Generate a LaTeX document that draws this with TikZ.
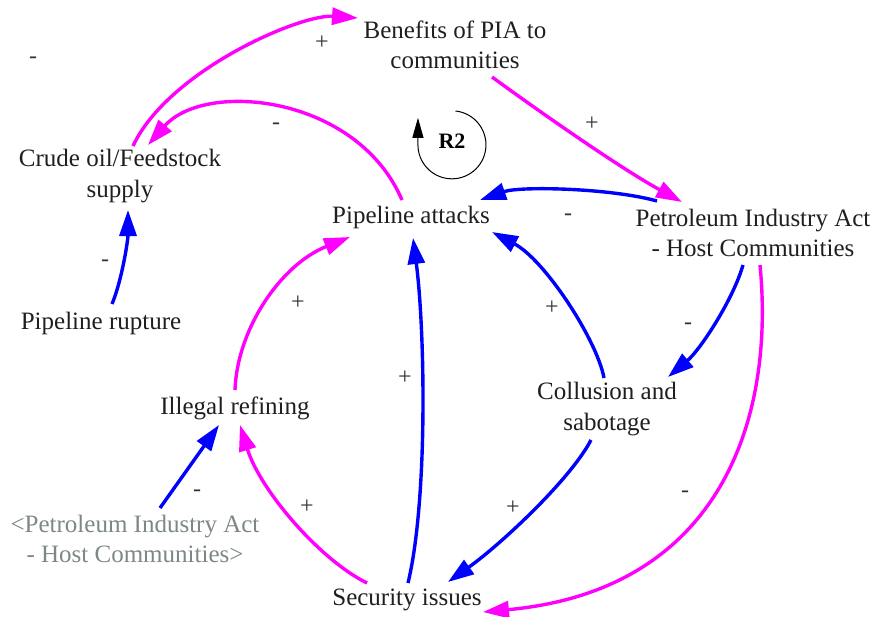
\documentclass[tikz,border=0pt]{standalone}
\usepackage{fontspec}
\setmainfont{Liberation Serif}
\usetikzlibrary{arrows.meta,calc}
\definecolor{linkpos}{RGB}{255,0,255}
\definecolor{linkneg}{RGB}{0,0,255}
\definecolor{shadowtxt}{RGB}{125,135,135}
\begin{document}
\begin{tikzpicture}[x=1pt,y=-1pt,
  var/.style={align=center,font=\fontsize{25}{30.5}\selectfont,inner sep=0pt,text=black!88},
  ghost/.style={var,text=shadowtxt},
  pol/.style={font=\fontsize{24}{24}\selectfont,inner sep=0pt,text=black!80},
  link/.style={line width=3.4pt,-{Triangle[length=26pt,width=17pt]}},
  magl/.style={link,draw=linkpos},
  bluel/.style={link,draw=linkneg},
]
\useasboundingbox (0,0) rectangle (872,616);

% variables
\node[var] (ben) at (455,45) {Benefits of PIA to\\communities};
\node[var] (crude) at (120,176) {Crude oil/Feedstock\\supply};
\node[var] (pa) at (411,217) {Pipeline attacks};
\node[var] (pia) at (753,233) {Petroleum Industry Act\\- Host Communities};
\node[var] (rup) at (101,323) {Pipeline rupture};
\node[var] (ill) at (235,408) {Illegal refining};
\node[var] (col) at (607,409) {Collusion and\\sabotage};
\node[ghost] (piag) at (135,539) {<Petroleum Industry Act\\- Host Communities>};
\node[var] (sec) at (407,600) {Security issues};

% causal links
\draw[magl] ($(crude)+(13,-30)$) .. controls (168,71) and (300,14) .. ($(ben)+(-97,-27)$);
\draw[magl] ($(pa)+(-9,-17)$) .. controls (357,95) and (205,80) .. ($(crude)+(28,-31)$);
\draw[magl] ($(ben)+(37,32)$) .. controls (540,112) and (620,168) .. ($(pia)+(-71,-31)$);
\draw[bluel] ($(pia)+(-96,-32)$) .. controls (610,188) and (520,186) .. ($(pa)+(69,-17)$);
\draw[bluel] ($(pia)+(-10,32)$) .. controls (733,300) and (700,350) .. ($(col)+(61,-32)$);
\draw[magl] ($(pia)+(7,32)$) .. controls (775,420) and (720,590) .. ($(sec)+(76,12)$);
\draw[bluel] ($(col)+(-3,-31)$) .. controls (597,340) and (545,260) .. ($(pa)+(81,15)$);
\draw[bluel] ($(col)+(-16,31)$) .. controls (570,480) and (500,545) .. ($(sec)+(41,-18)$);
\draw[bluel] ($(sec)+(1,-17)$) .. controls (428,500) and (425,330) .. ($(pa)+(2,21)$);
\draw[magl] ($(sec)+(-40,-17)$) .. controls (320,560) and (260,490) .. ($(ill)+(5,17)$);
\draw[magl] ($(ill)+(0,-18)$) .. controls (237,330) and (280,265) .. ($(pa)+(-61,20)$);
\draw[bluel] ($(piag)+(25,-31)$) -- ($(ill)+(-16,17)$);
\draw[bluel] ($(rup)+(11,-19)$) .. controls (122,280) and (128,240) .. ($(crude)+(8,34)$);

% polarity signs
\node[pol] (s0) at (33,60) {-};
\node[pol] (s1) at (322,43) {+};
\node[pol] (s2) at (276,126) {-};
\node[pol] (s3) at (592,124) {+};
\node[pol] (s4) at (568,217) {-};
\node[pol] (s5) at (688,326) {-};
\node[pol] (s6) at (685,494) {-};
\node[pol] (s7) at (552,308) {+};
\node[pol] (s8) at (513,508) {+};
\node[pol] (s9) at (405,378) {+};
\node[pol] (s10) at (307,507) {+};
\node[pol] (s11) at (298,303) {+};
\node[pol] (s12) at (197,493) {-};
\node[pol] (s13) at (105,263) {-};

% loop marker
\node[font=\fontsize{22}{22}\selectfont\bfseries,inner sep=0pt] (r2) at (452,141) {R2};
\draw[line width=1pt,-{Triangle[length=20pt,width=11pt]}]
  ($(r2)+(3.5,-30)$) arc[start angle=84,end angle=-180,radius=34pt] -- ++(0,-27);
\end{tikzpicture}
\end{document}
